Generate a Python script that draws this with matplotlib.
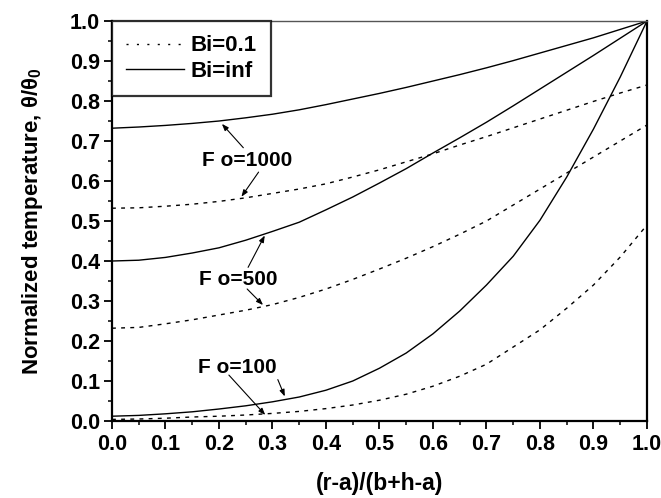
import matplotlib
matplotlib.use("Agg")
import matplotlib.pyplot as plt
from matplotlib.lines import Line2D
from matplotlib.ticker import MultipleLocator, FormatStrFormatter

plt.rcParams['font.family'] = ['Liberation Sans', 'DejaVu Sans']
plt.rcParams['font.weight'] = 'bold'
plt.rcParams['mathtext.fontset'] = 'custom'
plt.rcParams['mathtext.rm'] = 'Liberation Sans:bold'
plt.rcParams['mathtext.it'] = 'Liberation Sans:bold'

# positions across the gap, (r-a)/(b+h-a)
x = [0.0, 0.05, 0.1, 0.15, 0.2, 0.25, 0.3, 0.35, 0.4, 0.45, 0.5,
     0.55, 0.6, 0.65, 0.7, 0.75, 0.8, 0.85, 0.9, 0.95, 1.0]

# Bi = inf (solid)
inf_1000 = [0.732, 0.735, 0.739, 0.744, 0.75, 0.758, 0.767, 0.778, 0.791, 0.805, 0.819,
            0.834, 0.85, 0.866, 0.883, 0.901, 0.92, 0.939, 0.958, 0.979, 1.0]
inf_500 = [0.40, 0.402, 0.409, 0.42, 0.433, 0.452, 0.474, 0.497, 0.528, 0.56, 0.595,
           0.631, 0.67, 0.708, 0.747, 0.788, 0.83, 0.872, 0.914, 0.957, 1.0]
inf_100 = [0.012, 0.014, 0.018, 0.023, 0.03, 0.038, 0.048, 0.06, 0.077, 0.10, 0.132,
           0.17, 0.218, 0.275, 0.34, 0.412, 0.502, 0.61, 0.73, 0.86, 1.0]

# Bi = 0.1 (dashed)
bi_1000 = [0.532, 0.533, 0.537, 0.542, 0.549, 0.558, 0.569, 0.58, 0.593, 0.61, 0.628,
           0.648, 0.668, 0.69, 0.711, 0.733, 0.755, 0.777, 0.799, 0.82, 0.84]
bi_500 = [0.232, 0.234, 0.243, 0.253, 0.265, 0.277, 0.291, 0.309, 0.33, 0.354, 0.38,
          0.407, 0.436, 0.467, 0.50, 0.54, 0.58, 0.62, 0.66, 0.70, 0.74]
bi_100 = [0.004, 0.005, 0.007, 0.01, 0.012, 0.015, 0.019, 0.024, 0.031, 0.04, 0.052,
          0.067, 0.087, 0.112, 0.142, 0.185, 0.228, 0.282, 0.34, 0.41, 0.49]

fig = plt.figure(figsize=(6.61, 4.98), dpi=100)
ax = fig.add_axes([0.1694, 0.1546, 0.8094, 0.8032])

dash = (0, (2.8, 3.8))
for s in [inf_1000, inf_500, inf_100]:
    ax.plot(x, s, color='black', lw=1.0)
for s in [bi_1000, bi_500, bi_100]:
    ax.plot(x, s, color='black', lw=1.0, linestyle=dash)

ax.set_xlim(0, 1)
ax.set_ylim(0, 1)
ax.xaxis.set_major_locator(MultipleLocator(0.1))
ax.xaxis.set_minor_locator(MultipleLocator(0.05))
ax.yaxis.set_major_locator(MultipleLocator(0.1))
ax.yaxis.set_minor_locator(MultipleLocator(0.05))
ax.xaxis.set_major_formatter(FormatStrFormatter('%.1f'))
ax.yaxis.set_major_formatter(FormatStrFormatter('%.1f'))
ax.tick_params(which='major', direction='out', length=5.5, width=1.3, labelsize=15.5,
               top=False, right=False)
ax.tick_params(axis='y', which='major', pad=3)
ax.tick_params(axis='x', which='major', pad=4)
ax.tick_params(which='minor', direction='out', length=3.2, width=1.1, top=False, right=False)
for lab in ax.get_xticklabels() + ax.get_yticklabels():
    lab.set_fontweight('bold')

for side in ['left', 'bottom', 'right']:
    ax.spines[side].set_linewidth(1.6)
ax.spines['top'].set_linewidth(1.0)
ax.spines['top'].set_color('#555555')

ax.set_xlabel('(r-a)/(b+h-a)', fontsize=16.5, fontweight='bold', labelpad=12)
ax.set_ylabel(r'Normalized temperature, θ/θ$_0$', fontsize=16, fontweight='bold', labelpad=18)

handles = [Line2D([], [], color='black', lw=1.0, linestyle=(0, (1.5, 6))),
           Line2D([], [], color='black', lw=1.0)]
leg = ax.legend(handles, ['Bi=0.1', 'Bi=inf'], loc='upper left', fontsize=16,
                fancybox=False, borderaxespad=0, handlelength=2.6, handletextpad=0.3,
                frameon=True, borderpad=0.65, labelspacing=0.2)
leg.get_frame().set_edgecolor('black')
leg.get_frame().set_linewidth(1.6)
for t in leg.get_texts():
    t.set_fontweight('bold')

arrow = dict(arrowstyle='-|>,head_length=0.4,head_width=0.15', color='black', lw=0.8)
labels = [('F o=1000', (0.252, 0.6525), [((0.249, 0.678), (0.202, 0.748)), ((0.277, 0.628), (0.239, 0.555))]),
          ('F o=500', (0.236, 0.355), [((0.252, 0.378), (0.288, 0.47)), ((0.249, 0.335), (0.286, 0.285))]),
          ('F o=100', (0.234, 0.135), [((0.308, 0.11), (0.325, 0.055)), ((0.215, 0.12), (0.29, 0.01))])]
for txt, pos, arrs in labels:
    ax.text(pos[0], pos[1], txt, fontsize=15, fontweight='bold', ha='center', va='center')
    for start, end in arrs:
        ax.annotate('', xy=end, xytext=start, arrowprops=arrow)

fig.savefig('out.png', dpi=100)
